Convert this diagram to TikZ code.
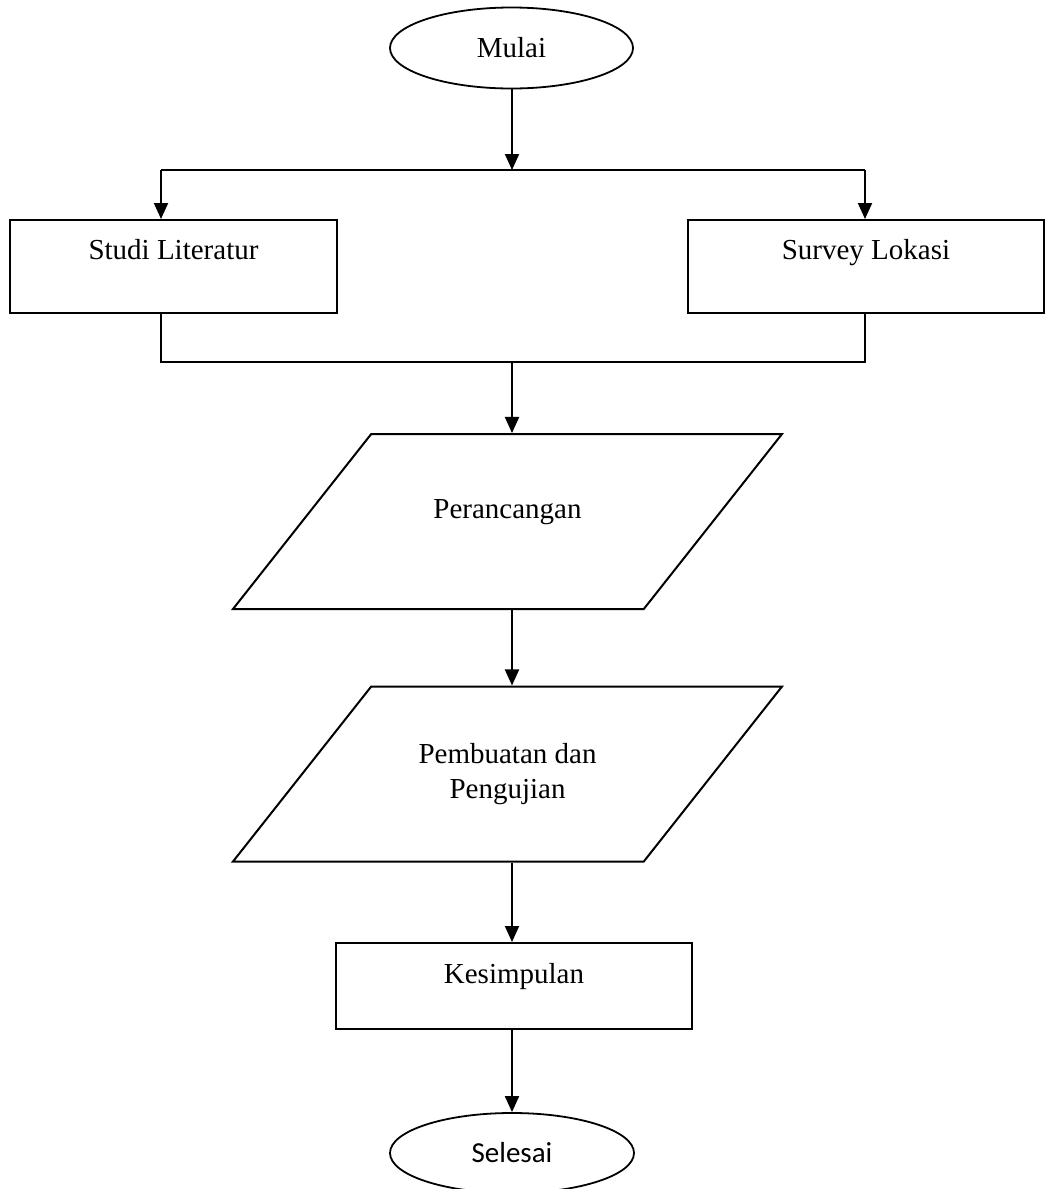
\documentclass[tikz,border=0pt]{standalone}
\usepackage{fontspec}
\setmainfont{Liberation Serif}
\newfontfamily\calibrifont{Carlito}
\usepackage{tikz}
\usetikzlibrary{shapes.geometric,arrows.meta}
\tikzset{
  termnode/.style = {ellipse, draw, line width=0.9pt, inner sep=0pt},
  procbox/.style  = {rectangle, draw, line width=1pt, inner sep=0pt,
                     text height=10pt, text depth=17pt},
  iobox/.style    = {trapezium, draw, line width=1pt, inner xsep=0pt,
                     trapezium left angle=51.7, trapezium right angle=128.3,
                     trapezium stretches body=true, minimum width=274.5pt},
  flow/.style     = {-{Triangle[length=8pt,width=7pt]}, line width=1pt},
  wire/.style     = {line width=1pt},
}

\begin{document}
\begin{tikzpicture}[x=0.5pt, y=-0.5pt,
                    font=\fontsize{14.5}{17.5}\selectfont]
\useasboundingbox (0,0) rectangle (1047,1189);
% terminals
\node[termnode, minimum width=121.5pt, minimum height=40.5pt] (mulai) at (511.5, 48) {Mulai};
\node[termnode, minimum width=122pt, minimum height=40pt, font=\calibrifont\fontsize{14.5}{17.5}\selectfont]
     (selesai) at (512, 1153) {Selesai};
% process boxes
\node[procbox, minimum width=163.5pt, minimum height=46.5pt] (studi)  at (173.5, 266.5) {Studi Literatur};
\node[procbox, minimum width=178pt, minimum height=46.5pt]   (survey) at (866, 266.5)   {Survey Lokasi};
\node[procbox, minimum width=178pt, minimum height=43pt, text depth=12.6pt] (kesim) at (514, 986) {Kesimpulan};
% parallelograms (height comes from inner ysep so the slant keeps its angle)
\node[iobox, text height=10pt, text depth=12.6pt, inner ysep=32.45pt] (rancang) at (507.5, 521.5) {Perancangan};
\node[iobox, align=center, text height=27.5pt, text depth=3pt, inner ysep=28.5pt]
     (buat) at (507.5, 774) {Pembuatan dan\\Pengujian};
% branch points
\coordinate (split) at (512, 170);
\coordinate (bL) at (161, 170);
\coordinate (bR) at (865, 170);
\coordinate (jL) at (161, 362);
\coordinate (jR) at (865, 362);
\coordinate (join) at (512, 362);
% connectors
\draw[flow] (mulai.south -| split) -- (split);
\draw[wire] (bL) -- (bR);
\draw[flow] (bL) -- (bL |- studi.north);
\draw[flow] (bR) -- (bR |- survey.north);
\draw[wire] (jL |- studi.south) -- (jL) -- (jR) -- (jR |- survey.south);
\draw[flow] (join) -- (join |- rancang.north);
\draw[flow] (join |- rancang.south) -- (join |- buat.north);
\draw[flow] (join |- buat.south) -- (join |- kesim.north);
\draw[flow] (join |- kesim.south) -- (join |- selesai.north);
\end{tikzpicture}
\end{document}
